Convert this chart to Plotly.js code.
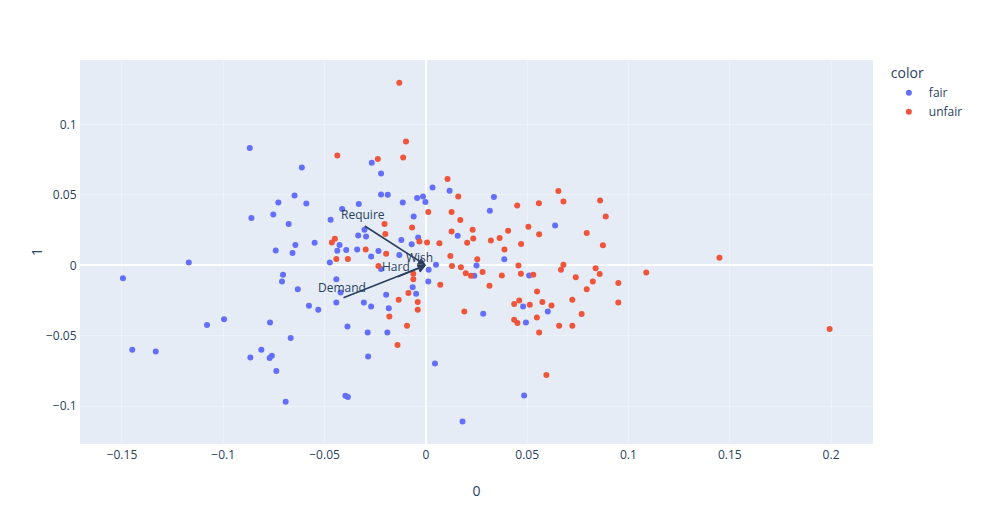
<!DOCTYPE html>
<html>
<head>
<meta charset="utf-8">
<script src="https://cdn.plot.ly/plotly-3.0.1.min.js"></script>
<style>
  html, body { margin: 0; padding: 0; background: #fff; }
  #myPlot { width: 983px; height: 525px; }
</style>
</head>
<body>
<div id="myPlot"></div>
<script>
// PCA scores, component 0 / component 1, split by label
var fairX = [-0.0869, -0.0728, -0.0861, -0.0753, -0.0741, -0.0267, -0.0221, -0.0612, 0.0033, 0.0117,
  -0.0648, -0.0590, -0.0221, -0.0188, -0.0043, -0.0014, -0.0002, -0.0114, -0.0331, -0.0413,
  -0.0060, -0.0470, -0.0677, -0.0303, -0.0334, -0.0295, -0.0038, 0.0157, -0.0426, -0.0549,
  -0.0644, -0.0121, -0.0070, -0.0658, -0.0437, -0.0393, -0.0339, -0.0234, -0.0131, -0.0270,
  0.0336, 0.0316, 0.0638, 0.0387, -0.1170, -0.1495, -0.0996, -0.1080, -0.0769, -0.1449,
  -0.1333, -0.0812, -0.0866, -0.0760, -0.0771, -0.0738, -0.0710, -0.0474, -0.0221, -0.0705,
  -0.0632, -0.0442, -0.0421, -0.0442, -0.0577, -0.0531, -0.0306, -0.0270, -0.0196, -0.0183,
  -0.0048, -0.0065, 0.0012, 0.0050, 0.0014, -0.0667, -0.0387, -0.0287, -0.0190, -0.0285,
  0.0045, -0.0397, -0.0385, -0.0692, 0.0181, 0.0250, 0.0239, 0.0510, 0.0480, 0.0602,
  0.0494, 0.0283, 0.0485];
var fairY = [0.0833, 0.0445, 0.0335, 0.0360, 0.0106, 0.0727, 0.0651, 0.0694, 0.0552, 0.0530,
  0.0495, 0.0438, 0.0502, 0.0500, 0.0477, 0.0488, 0.0450, 0.0445, 0.0436, 0.0399,
  0.0346, 0.0323, 0.0294, 0.0252, 0.0211, 0.0204, 0.0197, 0.0209, 0.0145, 0.0160,
  0.0145, 0.0179, 0.0150, 0.0087, 0.0103, 0.0108, 0.0112, 0.0101, 0.0074, 0.0062,
  0.0484, 0.0387, 0.0282, 0.0043, 0.0020, -0.0091, -0.0382, -0.0424, -0.0406, -0.0599,
  -0.0611, -0.0599, -0.0654, -0.0642, -0.0658, -0.0750, -0.0115, 0.0020, -0.0027, -0.0067,
  -0.0169, -0.0098, -0.0193, -0.0264, -0.0287, -0.0316, -0.0264, -0.0292, -0.0209, -0.0304,
  -0.0202, -0.0155, -0.0115, 0.0004, -0.0032, -0.0516, -0.0434, -0.0477, -0.0477, -0.0647,
  -0.0696, -0.0926, -0.0935, -0.0968, -0.1108, -0.0001, -0.0074, -0.0072, -0.0292, -0.0328,
  -0.0406, -0.0344, -0.0923];

var unfairX = [-0.0131, -0.0098, -0.0437, -0.0237, -0.0112, 0.0107, 0.0160, 0.0012, 0.0127, 0.0170,
  -0.0204, -0.0068, 0.0127, -0.0200, -0.0449, -0.0464, -0.0032, 0.0006, 0.0067, 0.0204,
  -0.0297, -0.0196, 0.0121, 0.0654, 0.0679, 0.0558, 0.0451, 0.0860, 0.0888, 0.0506,
  0.0406, 0.0231, 0.0234, 0.0321, 0.0364, 0.0470, 0.0559, 0.0794, 0.0874, 0.0388,
  0.0254, 0.1449, -0.0442, -0.0385, -0.0234, -0.0134, -0.0180, -0.0086, -0.0040, -0.0040,
  -0.0062, -0.0062, 0.0071, 0.0129, 0.0173, 0.0197, 0.0190, -0.0093, -0.0140, 0.0223,
  0.0280, 0.0457, 0.0375, 0.0469, 0.0530, 0.0314, 0.0679, 0.0667, 0.0740, 0.0838,
  0.0858, 0.0824, 0.0794, 0.0950, 0.1088, 0.0950, 0.0549, 0.0723, 0.0436, 0.0461,
  0.0513, 0.0575, 0.0620, 0.0548, 0.0769, 0.0436, 0.0452, 0.0559, 0.0658, 0.0723,
  0.0595, 0.1993];
var unfairY = [0.1296, 0.0878, 0.0779, 0.0755, 0.0765, 0.0613, 0.0488, 0.0379, 0.0379, 0.0321,
  0.0294, 0.0268, 0.0240, 0.0223, 0.0188, 0.0162, 0.0169, 0.0162, 0.0157, 0.0160,
  0.0112, 0.0082, 0.0067, 0.0528, 0.0452, 0.0441, 0.0424, 0.0460, 0.0346, 0.0273,
  0.0245, 0.0252, 0.0190, 0.0176, 0.0193, 0.0152, 0.0221, 0.0230, 0.0143, 0.0112,
  0.0043, 0.0053, 0.0044, 0.0044, -0.0004, -0.0245, -0.0363, -0.0197, -0.0261, -0.0316,
  -0.0098, -0.0060, -0.0138, -0.0004, -0.0014, -0.0057, -0.0328, -0.0429, -0.0566, -0.0074,
  -0.0048, -0.0001, -0.0072, -0.0060, -0.0067, -0.0145, 0.0004, -0.0032, -0.0084, -0.0020,
  -0.0062, -0.0115, -0.0169, -0.0126, -0.0051, -0.0264, -0.0186, -0.0245, -0.0275, -0.0250,
  -0.0280, -0.0261, -0.0285, -0.0370, -0.0346, -0.0387, -0.0410, -0.0477, -0.0429, -0.0429,
  -0.0779, -0.0452];

// feature loadings drawn as arrows
var features = ['Require', 'Wish', 'Hard', 'Demand'];
var loadX = [-0.0309, -0.0032, -0.0146, -0.0414];
var loadY = [0.0286, -0.0022, -0.0085, -0.0234];

var trace1 = {
  x: fairX,
  y: fairY,
  type: 'scatter',
  mode: 'markers',
  name: 'fair',
  legendgroup: 'fair',
  marker: { color: '#636efa', size: 6, symbol: 'circle' }
};

var trace2 = {
  x: unfairX,
  y: unfairY,
  type: 'scatter',
  mode: 'markers',
  name: 'unfair',
  legendgroup: 'unfair',
  marker: { color: '#EF553B', size: 6, symbol: 'circle' }
};

var annotations = [];
for (var i = 0; i < features.length; i++) {
  annotations.push({
    x: 0, y: 0, xref: 'x', yref: 'y',
    ax: loadX[i], ay: loadY[i], axref: 'x', ayref: 'y',
    text: '', showarrow: true,
    arrowhead: 2, arrowsize: 1, arrowwidth: 1.6, arrowcolor: '#2a3f5f'
  });
  annotations.push({
    x: loadX[i], y: loadY[i], xref: 'x', yref: 'y',
    text: features[i], showarrow: false,
    xanchor: 'center', yanchor: 'bottom',
    font: { color: '#2a3f5f', size: 12 }
  });
}

var axisStyle = {
  gridcolor: 'rgba(255,255,255,0.3)',
  zerolinecolor: 'white',
  zerolinewidth: 2,
  linecolor: 'white',
  ticks: '',
  automargin: false
};

var layout = {
  width: 983,
  height: 525,
  paper_bgcolor: 'white',
  plot_bgcolor: '#E5ECF6',
  font: { family: '"Open Sans", verdana, arial, sans-serif', size: 12, color: '#2a3f5f' },
  margin: { l: 80, r: 110, t: 60, b: 81 },
  xaxis: Object.assign({ title: { text: '0' }, range: [-0.1707, 0.2207] }, axisStyle),
  yaxis: Object.assign({ title: { text: '1' }, range: [-0.1268, 0.1457] }, axisStyle),
  legend: { title: { text: 'color' }, tracegroupgap: 0 },
  showlegend: true,
  annotations: annotations
};

Plotly.newPlot('myPlot', [trace1, trace2], layout, { displayModeBar: false });
</script>
</body>
</html>
